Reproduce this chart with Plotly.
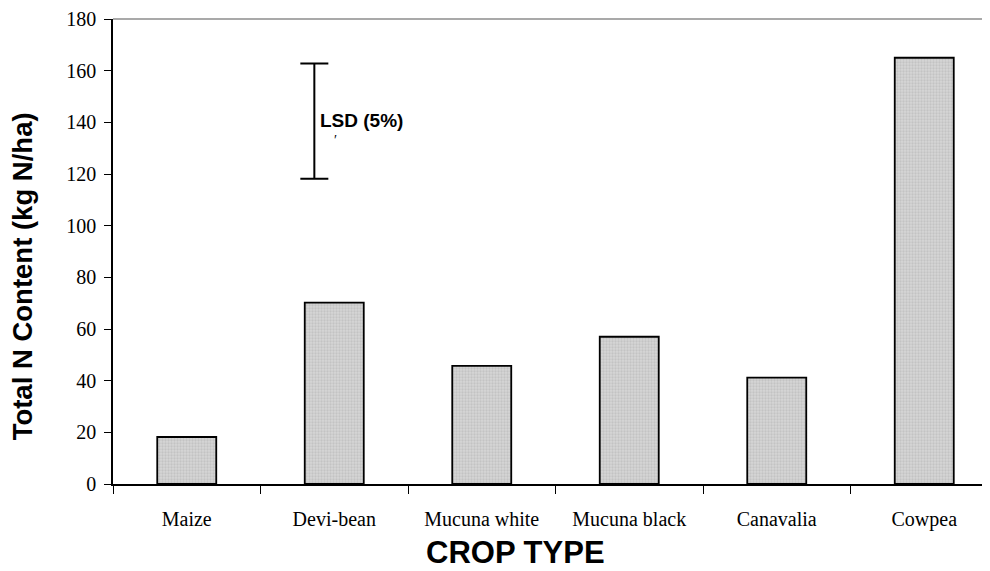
import plotly.graph_objects as go

crops = ["Maize", "Devi-bean", "Mucuna white", "Mucuna black", "Canavalia", "Cowpea"]
n_content = [18.2, 70.2, 45.7, 57.0, 41.2, 165.0]
y_ticks = [0, 20, 40, 60, 80, 100, 120, 140, 160, 180]
lsd_x = [0.865]
lsd_mid = [140.5]
lsd_half = [22.3]

# page body has an 8px margin, so the figure is drawn 8px right/down
OFF = 8
W, H = 990 - OFF, 571 - OFF
L, T = 113 - OFF, 16 - OFF
B = H - (484 - OFF)
R = 0
pw = W - L - R
ph = H - T - B
cat_px = 147.5
xr = [-0.5, -0.5 + pw / cat_px]


def px(sx):
    return (sx - OFF - L) / pw


def py(sy):
    return (H - B - (sy - OFF)) / ph


fig = go.Figure()
fig.add_trace(go.Bar(
    x=crops, y=n_content, width=0.4,
    marker=dict(color="#d2d2d2",
                line=dict(color="black", width=1.8),
                pattern=dict(shape=".", fgcolor="#b0b0b0", bgcolor="#d6d6d6",
                             size=3, solidity=0.45)),
    showlegend=False, hoverinfo="skip",
))
fig.add_trace(go.Scatter(
    x=lsd_x, y=lsd_mid, xaxis="x2", mode="markers",
    marker=dict(size=1, color="rgba(0,0,0,0)"),
    error_y=dict(type="data", array=lsd_half, symmetric=True,
                 color="black", thickness=2, width=14),
    showlegend=False, hoverinfo="skip",
))

fig.update_layout(
    width=W, height=H,
    margin=dict(l=L, r=R, t=T, b=B),
    paper_bgcolor="white", plot_bgcolor="white",
    font=dict(family="Liberation Serif", size=20, color="black"),
    xaxis=dict(type="category", range=xr, tickson="boundaries",
               ticks="outside", ticklen=8, tickwidth=1, tickcolor="black",
               showline=True, linecolor="black", linewidth=1.5,
               showgrid=False, zeroline=False, ticklabelstandoff=16,
               tickfont=dict(family="Liberation Serif", size=20)),
    xaxis2=dict(overlaying="x", range=xr, visible=False),
    yaxis=dict(range=[0, 180], tickvals=y_ticks, ticks="outside",
               ticklen=7, tickwidth=1, tickcolor="black",
               showline=True, linecolor="black", linewidth=1.5,
               showgrid=False, zeroline=False, ticklabelstandoff=4,
               ticklabeloverflow="allow",
               tickfont=dict(family="Liberation Serif", size=20)),
    shapes=[dict(type="line", xref="paper", yref="paper", x0=0, x1=1, y0=1, y1=1,
                 line=dict(color="#8c8c8c", width=1.5))],
    annotations=[
        dict(text="<b>CROP TYPE</b>", xref="paper", yref="paper",
             x=px(515), y=py(553), xanchor="center", yanchor="middle",
             showarrow=False, font=dict(family="Liberation Sans", size=31)),
        dict(text="<b>Total N Content (kg N/ha)</b>", xref="paper", yref="paper",
             x=px(22), y=py(275), xanchor="center", yanchor="middle",
             textangle=-90, showarrow=False, font=dict(family="Liberation Sans", size=27.5)),
        dict(text="<b>LSD (5%)</b>", xref="paper", yref="paper",
             x=px(318), y=py(118), xanchor="left", yanchor="middle",
             showarrow=False, font=dict(family="Liberation Sans", size=19)),
        dict(text="′", xref="paper", yref="paper",
             x=px(335), y=py(138), xanchor="center", yanchor="middle",
             showarrow=False, font=dict(family="Liberation Serif", size=14)),
    ],
)

fig.write_html("out.html")
